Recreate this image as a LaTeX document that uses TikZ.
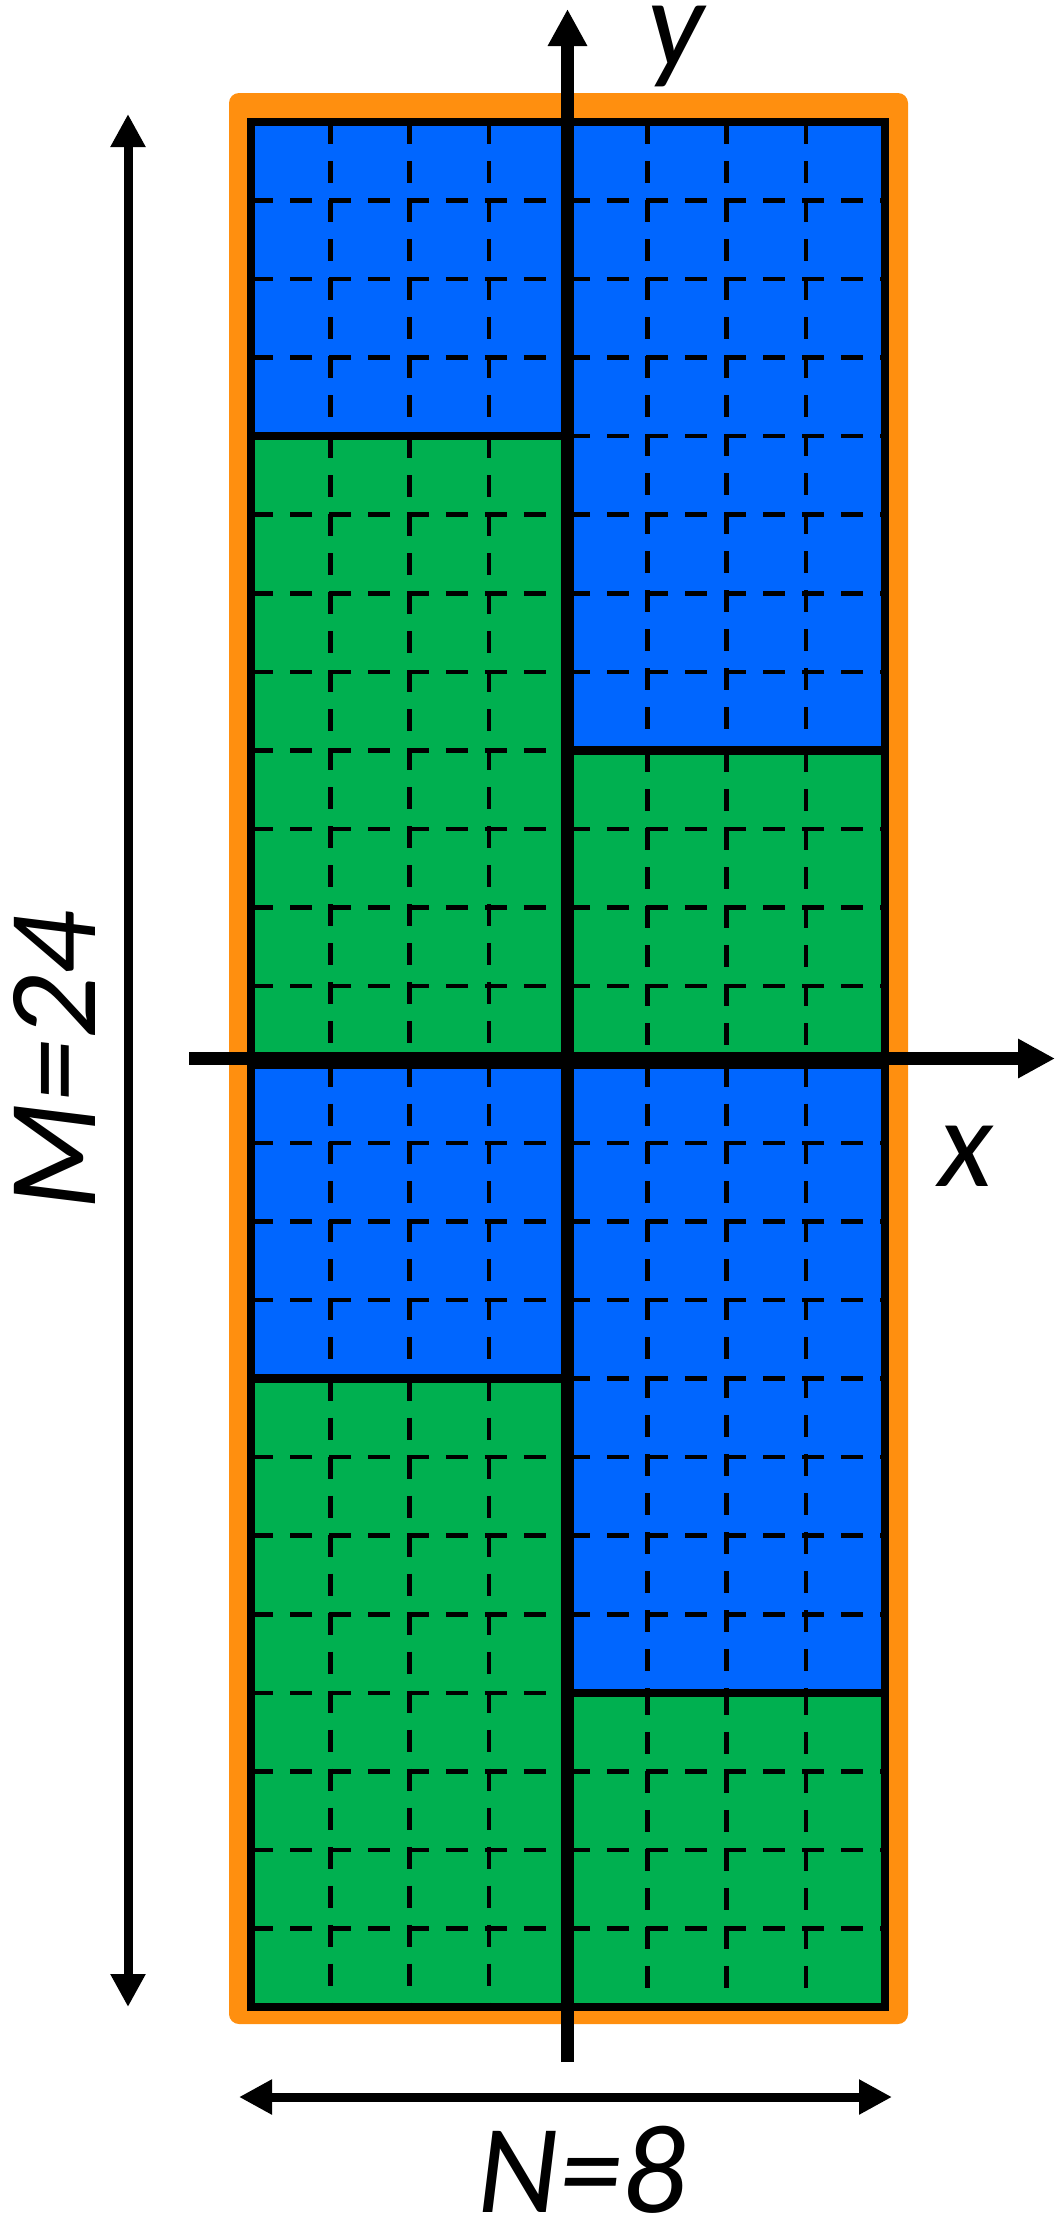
\documentclass[tikz,border=0pt]{standalone}
\usepackage{fontspec}
\setmainfont{Carlito}
\usetikzlibrary{arrows.meta}
\definecolor{cblue}{RGB}{0,102,255}
\definecolor{cgreen}{RGB}{0,176,80}
\definecolor{corange}{RGB}{255,143,15}
\begin{document}
\begin{tikzpicture}[x=0.1mm,y=-0.1mm,
  griddash/.style={line width=0.45mm,dash pattern=on 2.2mm off 1.7mm},
  blockedge/.style={line width=0.85mm,line join=miter},
  axisline/.style={line width=1.25mm,-{Triangle[length=3.7mm,width=3.7mm]}},
  dimline/.style={line width=0.9mm,{Triangle[length=3.3mm,width=3.3mm]}-{Triangle[length=3.3mm,width=3.3mm]}},
  lbl/.style={inner sep=0pt,font=\fontsize{36}{40}\selectfont\itshape}]
\useasboundingbox (0,0) rectangle (1061,2228);
% orange frame
\fill[corange,rounded corners=1mm] (229,93) rectangle (908,2024);
% blocks
\foreach \c/\a/\b/\col in {0/0/4/cblue,0/4/12/cgreen,0/12/16/cblue,0/16/24/cgreen,1/0/8/cblue,1/8/12/cgreen,1/12/20/cblue,1/20/24/cgreen}{
  \pgfmathsetmacro\xl{251+\c*317}
  \pgfmathsetmacro\xr{\xl+317}
  \pgfmathsetmacro\yt{122+\a*78.54}
  \pgfmathsetmacro\yb{122+\b*78.54}
  \fill[\col] (\xl,\yt) rectangle (\xr,\yb);
  \foreach \i in {1,2,3}{
    \draw[griddash] (\xl+\i*79.25,\yt) -- (\xl+\i*79.25,\yb);
  }
  \pgfmathtruncatemacro\aa{\a+1}
  \pgfmathtruncatemacro\bb{\b-1}
  \foreach \j in {\aa,...,\bb}{
    \draw[griddash] (\xl,122+\j*78.54) -- (\xr,122+\j*78.54);
  }
}
\foreach \c/\a/\b in {0/0/4,0/4/12,0/12/16,0/16/24,1/0/8,1/8/12,1/12/20,1/20/24}{
  \pgfmathsetmacro\xl{251+\c*317}
  \pgfmathsetmacro\xr{\xl+317}
  \pgfmathsetmacro\yt{122+\a*78.54}
  \pgfmathsetmacro\yb{122+\b*78.54}
  \draw[blockedge] (\xl,\yt) rectangle (\xr,\yb);
}
% axes
\coordinate (xs) at (189,1058.5);
\coordinate (xe) at (1055,1058.5);
\coordinate (ys) at (567.5,2062);
\coordinate (ye) at (567.5,9);
\draw[axisline] (xs) -- (xe);
\draw[axisline] (ys) -- (ye);
\node[lbl,anchor=base,text height=0.47em,text depth=0.2em] (ylab) at (676,66) {y};
\node[lbl,anchor=base,text height=0.47em,text depth=0pt] (xlab) at (966,1186) {x};
% dimension arrows
\coordinate (mt) at (128,114);
\coordinate (mb) at (128,2007);
\coordinate (nl) at (239,2097);
\coordinate (nr) at (892,2097);
\draw[dimline] (mt) -- (mb);
\draw[dimline] (nl) -- (nr);
\node[lbl,anchor=base,rotate=90,text height=0.65em,text depth=0pt] (mlab) at (96,1061) {M=24};
\node[lbl,anchor=base,text height=0.65em,text depth=0pt] (nlab) at (582,2212) {N=8};
\end{tikzpicture}
\end{document}
